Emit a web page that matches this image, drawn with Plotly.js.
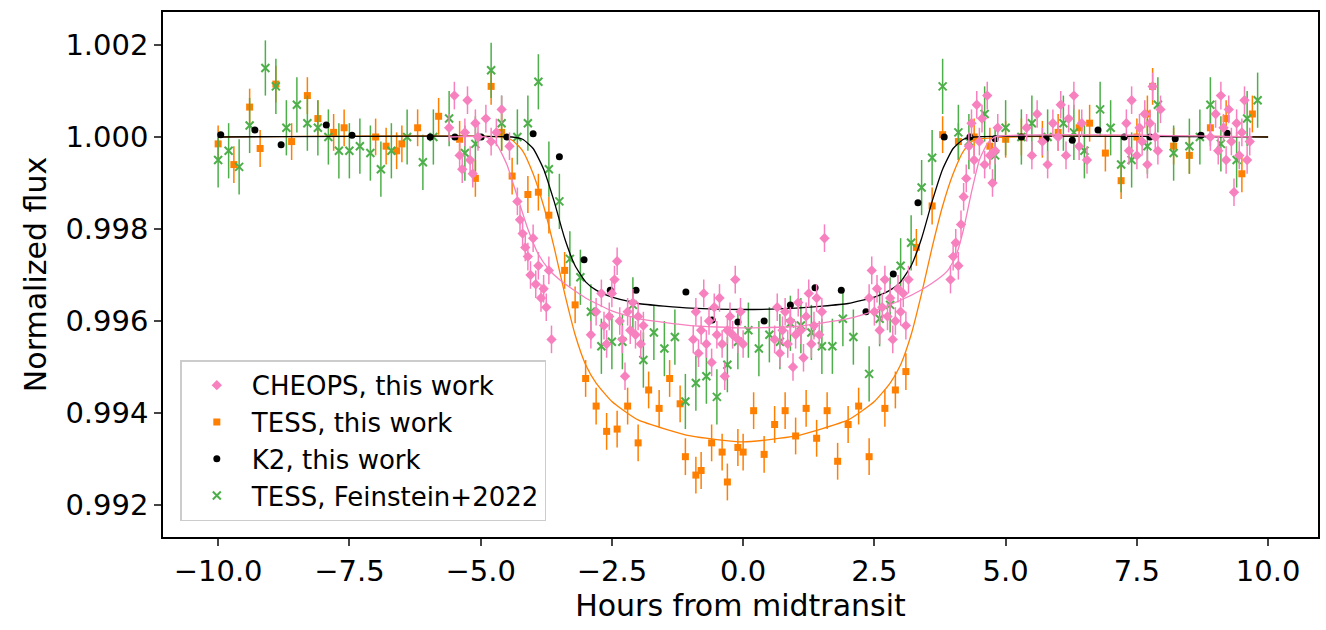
<!DOCTYPE html>
<html>
<head>
<meta charset="utf-8">
<script src="https://cdn.plot.ly/plotly-3.0.1.min.js"></script>
<style>body{margin:0;background:#fff}#plot{width:1326px;height:630px}</style>
</head>
<body>
<div id="plot"></div>
<script>
// hours from midtransit / normalized flux
var tessX = [-10,-9.7,-9.4,-9.2,-8.9,-8.6,-8.3,-8.1,-7.8,-7.6,-7.0,-6.8,-6.6,-6.5,-6.2,-5.8,-5.4,-5.1,-4.8,-4.6,-4.4,-4.1,-3.9,-3.7,-3.4,-3.2,-3.0,-2.8,-2.6,-2.4,-2.2,-2.0,-1.8,-1.6,-1.4,-1.2,-1.1,-0.9,-0.8,-0.6,-0.4,-0.3,-0.1,0.0,0.2,0.4,0.6,0.8,1.0,1.2,1.4,1.6,1.8,2.0,2.2,2.4,2.7,2.9,3.1,3.3,3.6,3.8,4.1,4.4,4.7,5.0,5.3,5.7,6.0,6.4,6.6,6.9,7.2,7.5,7.7,7.8,8.2,8.5,8.9,9.2,9.5,9.7];
var tessY = [0.99985,0.9994,1.00065,0.99975,1.00115,0.9999,1.0009,1.0004,1.0001,1.0002,1.0,0.9998,0.9997,0.99985,1.0002,1.00045,0.99995,0.9991,1.0011,1.0001,0.99915,0.99875,0.9988,0.9983,0.9971,0.99635,0.99475,0.99415,0.9936,0.99365,0.99415,0.99335,0.9945,0.9941,0.99475,0.9942,0.99305,0.99265,0.99275,0.99335,0.99315,0.9925,0.99325,0.99315,0.99405,0.9931,0.99375,0.99405,0.9935,0.9941,0.99345,0.99405,0.99295,0.99375,0.99415,0.99305,0.9941,0.9945,0.9949,0.9976,0.9985,1.00005,0.9999,1.0,0.9998,0.99995,1.0,0.99995,1.0001,1.0002,1.0003,0.99965,0.99905,1.0,1.0005,1.0011,0.9998,0.9996,1.0002,1.0004,0.9992,1.0005];

var feinX = [-10.0,-9.8,-9.6,-9.4,-9.1,-8.9,-8.7,-8.5,-8.3,-8.1,-7.9,-7.7,-7.5,-7.3,-7.1,-6.9,-6.7,-6.4,-6.1,-5.9,-5.6,-5.3,-5.1,-4.8,-4.6,-4.3,-4.1,-3.9,-3.7,-3.5,-3.3,-3.1,-2.9,-2.7,-2.5,-2.3,-2.1,-1.9,-1.7,-1.5,-1.3,-1.1,-0.9,-0.7,-0.5,-0.3,-0.1,0.1,0.3,0.5,0.7,0.9,1.1,1.3,1.5,1.7,1.9,2.1,2.4,2.6,2.8,3.0,3.2,3.4,3.6,3.8,4.1,4.3,4.6,4.8,5.0,5.3,5.5,5.8,6.1,6.3,6.5,6.8,7.0,7.2,7.4,7.7,7.9,8.2,8.5,8.7,8.9,9.1,9.4,9.6,9.8];
var feinY = [0.9995,0.9997,0.99935,1.00025,1.0015,1.0011,1.0002,1.0007,1.0003,1.0002,1.0,0.9997,0.9997,0.9998,0.99965,0.9993,0.9997,1.0,0.99945,1.0,1.0004,0.99965,0.99985,1.00145,1.0003,1.0,1.0003,1.0012,0.9993,0.9986,0.99735,0.99695,0.9962,0.99545,0.99555,0.99555,0.99635,0.99515,0.99575,0.9954,0.99565,0.99425,0.99465,0.9948,0.99435,0.99505,0.99555,0.9958,0.9954,0.9957,0.99555,0.99595,0.9959,0.99575,0.99545,0.99545,0.99605,0.99565,0.99485,0.99605,0.99635,0.9972,0.9977,0.9989,0.99955,1.0011,1.0001,0.9999,1.0005,0.9996,1.0002,1.0,1.0003,1.0,1.0003,1.0001,0.9997,1.0006,1.0002,0.9994,0.9995,0.9998,1.0007,0.99965,0.9998,1.0,1.0007,0.99985,0.9995,1.0004,1.0008];

var k2X = [-9.95,-9.3,-8.8,-7.94,-7.45,-5.96,-5.49,-4.99,-4.5,-4.0,-3.5,-3.03,-2.53,-2.04,-1.09,-0.59,-0.1,0.4,0.9,1.37,1.87,2.34,2.86,3.33,3.83,4.32,4.8,5.3,5.77,6.27,6.76,7.26,7.75,8.23,8.72,9.22];
var k2Y = [1.00005,1.00015,0.99983,1.00026,1.00004,1.0,1.0,1.0,1.0,1.00007,0.99957,0.99733,0.99667,0.99667,0.99663,0.99602,0.99598,0.996,0.99635,0.99672,0.99667,0.9962,0.99702,0.99857,1.0,1.0,0.99996,1.0,0.99996,0.99993,1.00015,1.0,1.0,0.99996,1.00004,1.00008];

var cheopsX = [-5.6,-5.5,-5.4,-5.35,-5.3,-5.25,-5.2,-5.15,-5.1,-5.05,-4.9,-4.8,-4.7,-4.6,-4.45,-4.3,-4.25,-4.2,-4.15,-4.1,-4.05,-4.0,-3.95,-3.9,-3.85,-3.8,-3.75,-3.7,-3.65,-2.9,-2.8,-2.7,-2.65,-2.6,-2.55,-2.5,-2.45,-2.4,-2.35,-2.3,-2.25,-2.2,-2.15,-2.1,-2.05,-2.0,-1.95,-1.9,-0.95,-0.9,-0.85,-0.8,-0.75,-0.7,-0.65,-0.6,-0.55,-0.5,-0.45,-0.4,-0.35,-0.3,-0.25,-0.2,-0.15,-0.1,-0.05,0.0,0.6,0.65,0.7,0.75,0.8,0.85,0.9,0.95,1.0,1.05,1.1,1.15,1.2,1.25,1.3,1.35,1.4,1.45,1.5,1.55,2.4,2.45,2.5,2.55,2.6,2.65,2.7,2.75,2.8,2.85,2.9,2.95,3.0,3.05,3.1,3.15,3.95,4.0,4.05,4.1,4.15,4.2,4.25,4.3,4.35,4.4,4.45,4.5,4.55,4.6,4.65,4.7,4.75,4.8,4.85,5.4,5.5,5.6,5.7,5.8,5.9,6.0,6.05,6.15,6.2,6.3,6.4,6.45,6.55,7.3,7.35,7.4,7.5,7.55,7.6,7.65,7.7,7.75,7.8,7.85,7.9,7.95,8.9,9.0,9.05,9.1,9.15,9.2,9.25,9.3,9.35,9.4,9.45,9.5,9.55,9.6,9.65];
var cheopsY = [1.0002,1.0009,0.9996,0.9993,1.0001,1.0008,0.9995,0.9992,1.0003,1.0,1.0004,0.9999,1.0001,1.0006,0.9998,0.9986,0.9982,0.9979,0.9976,0.9974,0.997,0.9978,0.9968,0.9972,0.9965,0.9967,0.9963,0.9971,0.9956,0.9957,0.9962,0.9966,0.9959,0.9955,0.9961,0.9966,0.9969,0.9973,0.996,0.9956,0.9948,0.9962,0.9958,0.9964,0.9957,0.9961,0.9955,0.9959,0.9956,0.9962,0.9953,0.9958,0.9966,0.9955,0.996,0.9951,0.9963,0.9957,0.9965,0.9955,0.9948,0.9958,0.9961,0.9957,0.9969,0.9956,0.9962,0.9955,0.9956,0.9963,0.9953,0.9958,0.9962,0.9955,0.996,0.995,0.9957,0.9964,0.9958,0.9952,0.9961,0.9966,0.9955,0.9959,0.9965,0.9957,0.9962,0.9978,0.9965,0.9971,0.9962,0.9967,0.9958,0.9963,0.9969,0.9961,0.9965,0.9956,0.996,0.9967,0.9962,0.9966,0.9959,0.9969,0.9969,0.9974,0.9977,0.9972,0.9981,0.9987,0.9991,0.9998,1.0003,0.9995,1.0007,0.9999,1.0004,0.9994,1.0009,0.9996,0.999,0.9997,1.0002,1.0002,0.9996,1.0005,0.9999,0.9994,1.0003,1.0,1.0007,0.9996,1.0004,1.0009,0.9998,1.0003,0.9995,1.0003,0.9997,1.0008,0.9996,1.0002,0.9999,1.0005,0.9994,1.0003,1.0011,1.0,0.9997,1.0006,1.0,1.0005,0.9997,1.0009,1.0002,0.9995,1.0006,0.9999,0.9988,1.0003,0.9996,1.0001,1.0008,0.9995,0.9999];

// model curves
var k2ModX = [-10,-4.4,-4.2,-4.0,-3.8,-3.6,-3.4,-3.2,-3.0,-2.8,-2.5,-2,-1,0,1,2,2.5,2.8,3.0,3.2,3.4,3.6,3.8,4.0,4.2,4.4,10];
var k2ModY = [1,1,0.99995,0.99975,0.9993,0.9986,0.9978,0.9972,0.99685,0.99667,0.99652,0.99638,0.99628,0.99625,0.99628,0.99638,0.99652,0.99667,0.99685,0.9972,0.9978,0.9986,0.9993,0.99975,0.99995,1,1];
var tessModX = [-10,-4.6,-4.4,-4.2,-4.0,-3.8,-3.6,-3.4,-3.2,-3.0,-2.8,-2.5,-2,-1,0,1,2,2.5,2.8,3.0,3.2,3.4,3.6,3.8,4.0,4.2,4.4,10];
var tessModY = [1,1,0.99993,0.9997,0.9992,0.9985,0.9976,0.9966,0.9957,0.99505,0.99465,0.99425,0.99385,0.9935,0.99337,0.9935,0.99385,0.99425,0.99465,0.99505,0.9957,0.9966,0.9976,0.9985,0.9992,0.9997,0.99993,1];
var cheopsModX = [-5.6,-4.9,-4.7,-4.5,-4.3,-4.1,-3.9,-3.7,-3.5,-3.2,-3.0,-2.5,-2,-1,0,1,2,2.5,3.0,3.4,3.7,3.9,4.05,4.2,4.35,4.5,4.65,4.8,9.7];
var cheopsModY = [1,1,0.99985,0.9994,0.9987,0.998,0.99745,0.99712,0.9969,0.99665,0.9965,0.99622,0.99605,0.9959,0.99585,0.99588,0.99605,0.99622,0.99645,0.99668,0.9969,0.9971,0.9974,0.9980,0.9988,0.9995,0.99985,1,1];

var pink = '#f781bf', orange = '#ff7f00', green = '#4daf4a';

function pts(name, x, y, color, symbol, size, err, rank) {
  return {x: x, y: y, name: name, mode: 'markers', type: 'scatter', legendrank: rank,
    marker: {color: color, symbol: symbol, size: size, line: {color: color, width: symbol.indexOf('x') === 0 ? 2 : 0}},
    error_y: {type: 'constant', value: err, color: color, thickness: 1.5, width: 0}};
}
function model(x, y, color) {
  return {x: x, y: y, mode: 'lines', type: 'scatter', showlegend: false, hoverinfo: 'skip',
    line: {color: color, width: 1.3, shape: 'spline', smoothing: 0.5}};
}

var data = [
  pts('TESS, this work', tessX, tessY, orange, 'square', 7, 0.0004, 2),
  pts('TESS, Feinstein+2022', feinX, feinY, green, 'x-thin', 8, 0.0006, 4),
  model(tessModX, tessModY, orange),
  pts('K2, this work', k2X, k2Y, 'black', 'circle', 7, 0.00006, 3),
  model(k2ModX, k2ModY, 'black'),
  pts('CHEOPS, this work', cheopsX, cheopsY, pink, 'diamond', 8, 0.0003, 1),
  model(cheopsModX, cheopsModY, pink)
];

var axisCommon = {showgrid: false, zeroline: false, showline: true, mirror: true, linecolor: 'black', linewidth: 1.5,
  ticks: 'outside', ticklen: 7, tickwidth: 1.5, tickfont: {size: 29, color: 'black'}};

var layout = {
  width: 1326, height: 630,
  margin: {l: 163, r: 8, t: 12, b: 93},
  paper_bgcolor: 'white', plot_bgcolor: 'white',
  font: {family: 'DejaVu Sans', color: 'black'},
  xaxis: Object.assign({}, axisCommon, {range: [-11.05, 10.95], tickvals: [-10, -7.5, -5, -2.5, 0, 2.5, 5, 7.5, 10],
    ticktext: ['\u221210.0', '\u22127.5', '\u22125.0', '\u22122.5', '0.0', '2.5', '5.0', '7.5', '10.0'],
    title: {text: 'Hours from midtransit', font: {size: 30}, standoff: 4}}),
  yaxis: Object.assign({}, axisCommon, {range: [0.991304, 1.002717], tickvals: [0.992, 0.994, 0.996, 0.998, 1.0, 1.002],
    ticktext: ['0.992', '0.994', '0.996', '0.998', '1.000', '1.002'],
    title: {text: 'Normalized flux', font: {size: 30}, standoff: 10}}),
  legend: {x: 0.015, y: 0.03, xanchor: 'left', yanchor: 'bottom', bgcolor: 'rgba(255,255,255,0.8)',
    bordercolor: '#cccccc', borderwidth: 1.5, font: {size: 26}, tracegroupgap: 2, itemwidth: 60}
};

Plotly.newPlot(document.getElementById('plot'), data, layout, {displayModeBar: false});
</script>
</body>
</html>
